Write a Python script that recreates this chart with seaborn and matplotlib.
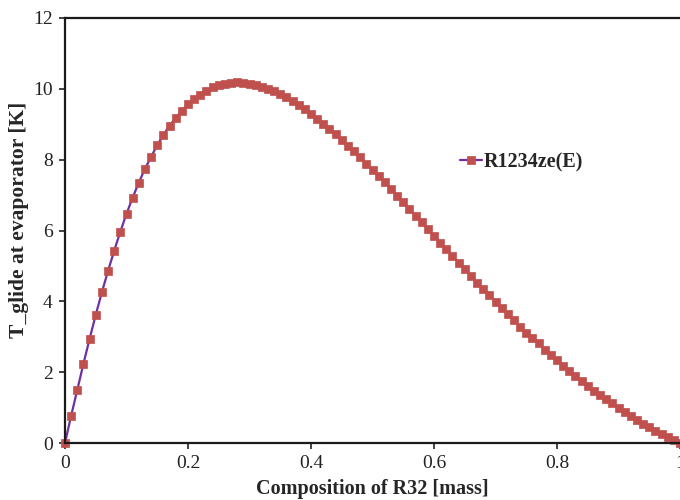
import numpy as np
import pandas as pd
import matplotlib
matplotlib.use("Agg")
import matplotlib.pyplot as plt
import seaborn as sns

# Data
composition = [round(i * 0.01, 2) for i in range(101)]
glide = [
    0.00, 0.77, 1.50, 2.24, 2.94, 3.62, 4.26, 4.86, 5.43, 5.97,
    6.47, 6.93, 7.35, 7.74, 8.08, 8.41, 8.70, 8.96, 9.18, 9.38,
    9.57, 9.71, 9.84, 9.95, 10.05, 10.11, 10.14, 10.17, 10.18, 10.17,
    10.14, 10.11, 10.06, 10.00, 9.93, 9.86, 9.77, 9.66, 9.55, 9.42,
    9.29, 9.16, 9.01, 8.86, 8.72, 8.56, 8.40, 8.24, 8.07, 7.89,
    7.72, 7.54, 7.36, 7.17, 6.98, 6.80, 6.61, 6.42, 6.23, 6.04,
    5.85, 5.66, 5.48, 5.28, 5.09, 4.91, 4.71, 4.53, 4.35, 4.17,
    3.99, 3.81, 3.64, 3.46, 3.28, 3.12, 2.96, 2.81, 2.63, 2.48,
    2.33, 2.18, 2.03, 1.89, 1.75, 1.61, 1.48, 1.36, 1.24, 1.12,
    0.99, 0.88, 0.76, 0.65, 0.54, 0.44, 0.35, 0.25, 0.17, 0.08,
    0.00,
]
series_name = "R1234ze(E)"
x_ticks = [0, 0.2, 0.4, 0.6, 0.8, 1.0]
x_tick_labels = ["0", "0.2", "0.4", "0.6", "0.8", "1"]
y_ticks = [0, 2, 4, 6, 8, 10, 12]
y_tick_labels = ["0", "2", "4", "6", "8", "10", "12"]

df = pd.DataFrame({"x": composition, "y": glide, "series": series_name})

sns.set_style("ticks")
plt.rcParams["font.family"] = ["Liberation Serif", "DejaVu Serif"]

fig = plt.figure(figsize=(6.8, 5.0), dpi=100)
ax = fig.add_axes([65 / 680, 57 / 500, 615 / 680, 425 / 500])

line_color = "#7030A0"
marker_color = "#C0504D"

sns.lineplot(data=df, x="x", y="y", ax=ax, color=line_color, linewidth=1.6,
             marker="s", markersize=5.2, markerfacecolor=marker_color,
             markeredgecolor=marker_color, markeredgewidth=0.5,
             label=series_name, clip_on=False)

ax.set_xlim(0, 1)
ax.set_ylim(0, 12)
ax.set_xticks(x_ticks)
ax.set_xticklabels(x_tick_labels)
ax.set_yticks(y_ticks)
ax.set_yticklabels(y_tick_labels)
ax.tick_params(axis="both", direction="out", length=4, width=1.2,
               labelsize=14, colors="#222222", pad=5)

for side in ["left", "bottom", "top"]:
    ax.spines[side].set_visible(True)
    ax.spines[side].set_linewidth(1.6)
    ax.spines[side].set_color("#1a1a1a")
ax.spines["right"].set_visible(False)

ax.set_xlabel("Composition of R32 [mass]", fontsize=14.5, fontweight="bold",
              va="center")
ax.xaxis.set_label_coords(0.5, -0.108)
ax.set_ylabel("T_glide at evaporator [K]", fontsize=15.5, fontweight="bold",
              va="center")
ax.yaxis.set_label_coords(-0.075, 0.525)

ax.legend(loc="center left", bbox_to_anchor=(0.642, 7.93), bbox_transform=ax.transData,
          frameon=False, handlelength=1.1, handletextpad=0.1,
          borderaxespad=0, borderpad=0,
          prop={"weight": "bold", "size": 14.5})

fig.savefig("out.png", dpi=100)
